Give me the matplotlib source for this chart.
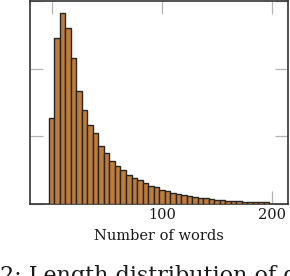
import numpy as np
import matplotlib
matplotlib.use("Agg")
import matplotlib.pyplot as plt

# histogram of document lengths, bins of 5 words
bin_centers = np.arange(0, 200, 5)
counts = [1275, 2456, 2828, 2599, 2162, 1672, 1393, 1172, 1051, 863,
          747, 632, 566, 497, 434, 382, 349, 312, 271, 247,
          212, 191, 169, 150, 131, 118, 99, 90, 81, 74,
          66, 54, 47, 44, 40, 34, 32, 29, 25, 22]
xtick_pos = [0, 100, 200]
xtick_lab = ["", "100", "200"]
ytick_pos = [0, 1000, 2000, 3000]

plt.rcParams['font.family'] = ['DejaVu Serif']

fig = plt.figure(figsize=(2.9, 2.76), dpi=100)
ax = fig.add_axes([0.102, 0.261, 0.891, 0.735])

ax.bar(bin_centers, counts, width=5, color='#bf7d3c', edgecolor='#262626',
       linewidth=1.0, zorder=3)

ax.set_xlim(-20, 214.5)
ax.set_ylim(0, 3000)
ax.set_xticks(xtick_pos)
ax.set_xticklabels(xtick_lab)
ax.set_yticks(ytick_pos)
ax.set_yticklabels([])
ax.tick_params(direction='in', length=9.5, width=0.9, color='#b4b4b4',
               top=True, right=True, labelsize=10.5, pad=3, labelcolor='#1a1a1a')
for s in ax.spines.values():
    s.set_color('#333333')
    s.set_linewidth(1.2)

ax.set_xlabel("Number of words", fontsize=10.5, labelpad=5, color='#1a1a1a')

# caption of the paper figure, cut by the bottom edge as in the source page
fig.text(0.0, -0.022, "2: Length distribution of documents", fontsize=16,
         ha='left', va='baseline', color='#1a1a1a')

fig.savefig("out.png", dpi=100)
